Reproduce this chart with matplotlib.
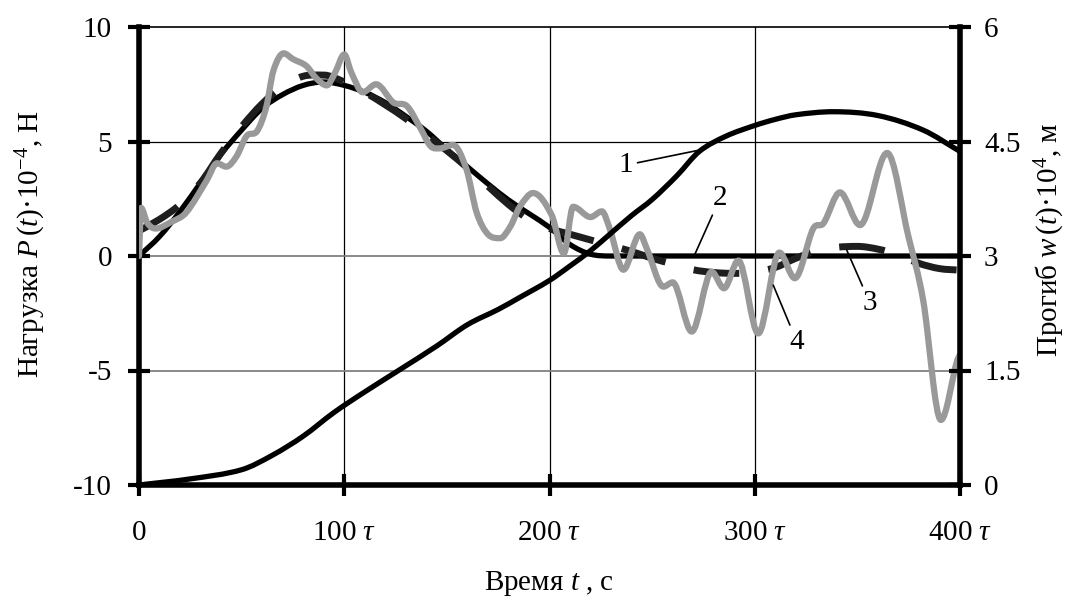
import numpy as np
import matplotlib
matplotlib.use("Agg")
import matplotlib.pyplot as plt
from matplotlib.path import Path
from matplotlib.patches import PathPatch

plt.rcParams.update({
    "font.family": ["Liberation Serif", "DejaVu Serif"],
    "mathtext.fontset": "custom",
    "mathtext.rm": "Liberation Serif",
    "mathtext.it": "Liberation Serif:italic",
    "mathtext.bf": "Liberation Serif:bold",
    "lines.scale_dashes": False,
    "axes.unicode_minus": False,
})

# ---- data (time in units of tau) ----
# 1: deflection w(t)*10^4, m (right axis)
defl_t = [0, 25, 50, 65, 80, 95, 110, 127, 145, 160, 175, 185, 200, 210, 220,
          230, 240, 250, 262, 273, 286, 300, 310, 320, 338, 360, 382, 400]
defl_w = [0.0, 0.08, 0.2, 0.39, 0.64, 0.95, 1.22, 1.51, 1.82, 2.1, 2.3, 2.45, 2.68,
          2.87, 3.07, 3.3, 3.53, 3.74, 4.05, 4.37, 4.57, 4.71, 4.79, 4.85, 4.89,
          4.84, 4.65, 4.37]

# 2: applied load P(t)*10^-4, N
load_t = [0, 10, 20, 30, 40, 50, 60, 70, 80, 90, 100, 110, 120, 130, 140, 150,
          160, 170, 180, 190, 200, 210, 220, 230, 240, 260, 280, 300, 320, 340,
          360, 380, 400]
load_p = [0.0, 0.85, 1.95, 3.2, 4.45, 5.5, 6.45, 7.05, 7.45, 7.6, 7.45, 7.15, 6.7,
          6.1, 5.45, 4.65, 3.9, 3.15, 2.45, 1.85, 1.25, 0.5, 0.08, 0.0, 0.0, 0.0,
          0.0, 0.0, 0.0, 0.0, 0.0, 0.0, 0.0]

# 3: reconstructed load
recon_t = [0, 10, 20, 30, 40, 50, 60, 70, 80, 90, 100, 110, 120, 130, 140, 150,
           160, 170, 180, 190, 200, 210, 220, 230, 240, 250, 260, 270, 280, 290,
           300, 310, 320, 330, 340, 350, 360, 370, 380, 390, 400]
recon_p = [1.1, 1.6, 2.25, 3.2, 4.5, 5.65, 6.65, 7.4, 7.85, 7.9, 7.6, 7.15, 6.6,
           6.0, 5.3, 4.6, 3.85, 3.05, 2.25, 1.6, 1.2, 0.95, 0.7, 0.45, 0.2, -0.1,
           -0.35, -0.6, -0.72, -0.76, -0.7, -0.5, -0.1, 0.22, 0.38, 0.42, 0.3,
           0.05, -0.32, -0.55, -0.62]

# 4: reconstruction from noisy deflection data
noisy_t = [0, 1, 4, 8, 16, 23, 33, 38, 42.5, 47.5, 52.5, 57.5, 62, 65.5, 70.5, 75,
           81.5, 86.5, 91.5, 95.5, 100, 103.5, 109, 115.5, 124, 130.5, 137, 142,
           146.5, 153, 159.5, 164.5, 170, 176, 181, 185.5, 192, 201, 207, 211.5,
           220, 225.5, 229.5, 236, 244, 247.5, 255.5, 260, 269.3, 279, 285, 292,
           301.7, 312, 319.5, 328.5, 333.5, 341.5, 351.3, 364.5, 375, 382, 390.7,
           398.5, 400]
noisy_p = [0.0, 2.1, 1.45, 1.2, 1.5, 1.9, 3.3, 4.05, 3.9, 4.35, 5.25, 5.45, 6.5,
           8.1, 8.85, 8.6, 8.3, 7.75, 7.45, 8.0, 8.8, 8.0, 7.15, 7.5, 6.7, 6.55,
           5.6, 4.8, 4.7, 4.85, 3.8, 1.9, 0.95, 0.78, 1.3, 2.15, 2.75, 1.8, 0.12,
           2.15, 1.7, 1.95, 1.15, -0.6, 0.95, 0.3, -1.34, -1.15, -3.3, -0.69,
           -1.41, -0.2, -3.38, 0.15, -0.97, 1.2, 1.43, 2.78, 1.35, 4.5, 0.8, -1.9,
           -7.16, -4.6, -4.3]

x_ticks = [0, 100, 200, 300, 400]
x_ticklabels = ["0", r"100 $\tau$", r"200 $\tau$", r"300 $\tau$", r"400 $\tau$"]
p_ticks = [-10, -5, 0, 5, 10]
p_ticklabels = ["-10", "-5", "0", "5", "10"]
w_ticks = [0, 1.5, 3, 4.5, 6]
w_ticklabels = ["0", "1.5", "3", "4.5", "6"]


def smooth_path(x, y):
    """Cubic Bezier path through the points (smoothed chart line)."""
    x = np.asarray(x, float)
    y = np.asarray(y, float)
    n = len(x)
    m = np.empty(n)
    m[1:-1] = (y[2:] - y[:-2]) / (x[2:] - x[:-2])
    m[0] = (y[1] - y[0]) / (x[1] - x[0])
    m[-1] = (y[-1] - y[-2]) / (x[-1] - x[-2])
    for i in range(1, n - 1):
        if (y[i] - y[i - 1]) * (y[i + 1] - y[i]) <= 0:
            m[i] = 0.0
    verts = [(x[0], y[0])]
    codes = [Path.MOVETO]
    for i in range(n - 1):
        h = x[i + 1] - x[i]
        verts += [(x[i] + h / 3, y[i] + m[i] * h / 3),
                  (x[i + 1] - h / 3, y[i + 1] - m[i + 1] * h / 3),
                  (x[i + 1], y[i + 1])]
        codes += [Path.CURVE4] * 3
    return Path(verts, codes)


def add_curve(axis, x, y, **kw):
    patch = PathPatch(smooth_path(x, y), fill=False,
                      transform=axis.transData, **kw)
    axis.add_patch(patch)
    return patch


fig = plt.figure(figsize=(10.82, 6.06), dpi=100)
ax = fig.add_axes([139 / 1082, 1 - 485 / 606, 821 / 1082, 458 / 606])
ax2 = ax.twinx()

add_curve(ax, load_t, load_p, edgecolor="black", lw=3.8,
          joinstyle="round", capstyle="round", zorder=2)
add_curve(ax, recon_t, recon_p, edgecolor="#1e1e1e", lw=5.0,
          linestyle=(0, (33, 21)), capstyle="butt", zorder=3)
add_curve(ax, noisy_t, noisy_p, edgecolor="#999999", lw=4.5,
          joinstyle="round", capstyle="round", zorder=4)
add_curve(ax2, defl_t, defl_w, edgecolor="black", lw=3.8,
          joinstyle="round", capstyle="round", zorder=2)

ax.set_xlim(0, 400)
ax.set_ylim(-10, 10)
ax2.set_ylim(0, 6)

ax.set_xticks(x_ticks)
ax.set_xticklabels(x_ticklabels)
ax.set_yticks(p_ticks)
ax.set_yticklabels(p_ticklabels)
ax2.set_yticks(w_ticks)
ax2.set_yticklabels(w_ticklabels)

for a in (ax, ax2):
    for s in a.spines.values():
        s.set_linewidth(4)
        s.set_color("black")
ax.spines["top"].set_visible(False)
ax.spines["right"].set_visible(False)
ax2.spines["top"].set_visible(False)
ax2.spines["left"].set_visible(False)
ax2.spines["bottom"].set_visible(False)

ax.tick_params(axis="x", direction="inout", length=16, width=3, pad=17,
               labelsize=21, top=False)
ax.tick_params(axis="y", direction="inout", length=16, width=3, pad=11.5,
               labelsize=21, right=False)
ax2.tick_params(axis="y", direction="inout", length=16, width=3, pad=9.3,
                labelsize=21, left=False)

ax.set_axisbelow(True)
ax.grid(True, axis="x", color="black", lw=0.9)
ax.grid(True, axis="y", color="black", lw=0.9)
for val, gl in zip(p_ticks, ax.yaxis.get_gridlines()):
    if val <= 0:
        gl.set_color("#808080")
        gl.set_linewidth(1.3)
    if val == 10:
        gl.set_clip_on(False)
        gl.set_linewidth(1.2)

# curve labels with leader lines
labels = [("1", (273.3, 4.63), (237.3, 3.97)),
          ("2", (270.9, 0.09), (283.1, 2.53)),
          ("3", (344.8, 0.26), (356.1, -2.05)),
          ("4", (309.0, -1.27), (320.6, -3.76))]
for txt, xy, xytext in labels:
    ax.annotate(txt, xy=xy, xytext=xytext, ha="center", va="center",
                fontsize=21, zorder=6,
                arrowprops=dict(arrowstyle="-", color="black", lw=1.2,
                                shrinkA=1, shrinkB=0))

fig.text(31 / 1082, 1 - 244 / 606, r"Нагрузка $P\,(t)$·10$^{-4}$, Н",
         rotation=90, ha="center", va="center", fontsize=21)
fig.text(1050 / 1082, 1 - 240 / 606, r"Прогиб $w\,(t)$·10$^{4}$, м",
         rotation=90, ha="center", va="center", fontsize=21)
fig.text(549 / 1082, 1 - 583 / 606, r"Время $t$ , с",
         ha="center", va="center", fontsize=21)

fig.savefig("out.png", dpi=100)
